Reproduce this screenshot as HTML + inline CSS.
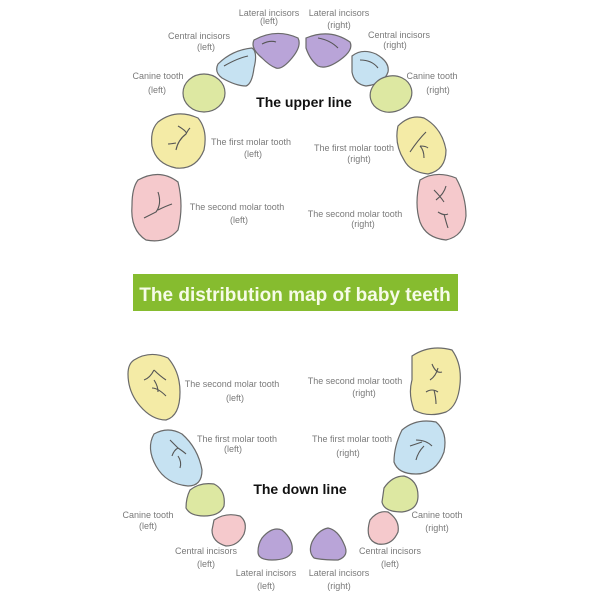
<!DOCTYPE html>
<html><head><style>
body{margin:0;background:#fff}
svg{display:block}
text{font-family:"Liberation Sans",sans-serif}
.l{font-size:9px;fill:#7a7a7a;text-anchor:middle}
.t{stroke:#6a6a6a;stroke-width:1.2}
.c{fill:none;stroke:#555;stroke-width:1.1}
</style></head><body>
<svg width="600" height="600" viewBox="0 0 600 600">
<!-- upper -->
<path class="t" fill="#b9a4d8" d="M254,40 Q276,28 298,38 Q302,46 292,58 Q282,70 276,68 Q270,66 262,58 Q250,48 254,40Z"/>
<path class="c" d="M262,44 Q270,40 276,42"/>
<path class="t" fill="#b9a4d8" d="M306,38 Q330,28 350,42 Q354,50 340,60 Q326,70 318,66 Q310,60 306,48Z"/>
<path class="c" d="M318,38 Q330,40 338,48"/>
<path class="t" fill="#c6e2f2" d="M218,64 Q232,50 252,48 Q258,52 254,68 Q252,84 246,86 Q236,86 222,78 Q214,72 218,64Z"/>
<path class="c" d="M224,66 Q238,58 248,56"/>
<path class="t" fill="#c6e2f2" d="M352,56 Q362,48 376,54 Q390,62 388,72 Q384,84 366,86 Q354,84 352,72Z"/>
<path class="c" d="M360,60 Q372,60 378,68"/>
<ellipse class="t" fill="#dde8a2" cx="204" cy="93" rx="21" ry="19"/>
<ellipse class="t" fill="#dde8a2" cx="391" cy="94" rx="21" ry="18" transform="rotate(-15 391 94)"/>
<path class="t" fill="#f4eba6" d="M158,122 Q176,108 198,118 Q208,130 204,150 Q196,170 176,168 Q156,164 152,146 Q150,130 158,122Z"/>
<path class="c" d="M178,126 Q188,132 186,134 Q178,140 176,150 M186,134 Q188,130 190,128 M176,143 Q170,144 168,144"/>
<path class="t" fill="#f4eba6" d="M398,126 Q410,114 424,118 Q442,128 446,150 Q446,170 428,174 Q410,172 404,160 Q394,144 398,126Z"/>
<path class="c" d="M410,152 Q418,140 426,132 M420,146 Q424,150 424,158 M420,146 Q426,146 428,148"/>
<path class="t" fill="#f5c9cc" d="M138,180 Q160,168 178,182 Q184,206 178,230 Q166,244 146,240 Q130,230 132,205 Q132,188 138,180Z"/>
<path class="c" d="M158,192 Q162,204 156,212 Q148,216 144,218 M158,210 Q166,206 172,204"/>
<path class="t" fill="#f5c9cc" d="M420,180 Q436,170 456,178 Q466,196 466,216 Q464,236 446,240 Q426,238 420,222 Q414,204 420,180Z"/>
<path class="c" d="M434,190 Q440,196 444,202 M446,186 Q444,194 436,200 M438,212 Q444,216 448,214 M444,214 Q446,222 448,228"/>
<text x="304" y="107" font-size="14" font-weight="bold" text-anchor="middle" fill="#111">The upper line</text>
<g class="l">
<text x="269" y="16">Lateral incisors</text><text x="269" y="24">(left)</text>
<text x="339" y="16">Lateral incisors</text><text x="339" y="28">(right)</text>
<text x="199" y="39">Central incisors</text><text x="206" y="50">(left)</text>
<text x="399" y="38">Central incisors</text><text x="395" y="48">(right)</text>
<text x="158" y="79">Canine tooth</text><text x="157" y="93">(left)</text>
<text x="432" y="79">Canine tooth</text><text x="438" y="93">(right)</text>
<text x="251" y="145">The first molar tooth</text><text x="253" y="157">(left)</text>
<text x="354" y="151">The first molar tooth</text><text x="359" y="162">(right)</text>
<text x="237" y="210">The second molar tooth</text><text x="239" y="223">(left)</text>
<text x="355" y="217">The second molar tooth</text><text x="363" y="227">(right)</text>
</g>
<!-- banner -->
<rect x="133" y="274" width="325" height="37" fill="#86bc2f"/>
<text x="295" y="301" font-size="19" font-weight="bold" fill="#f6fbe8" text-anchor="middle">The distribution map of baby teeth</text>
<!-- lower -->
<path class="t" fill="#f4eba6" d="M134,360 Q150,350 168,358 Q180,372 180,392 Q180,416 166,420 Q152,420 140,406 Q128,392 128,374 Q128,364 134,360Z"/>
<path class="c" d="M154,370 Q150,378 144,380 M154,370 Q160,376 166,380 M154,380 Q158,386 158,392 M152,388 Q158,388 166,396"/>
<path class="t" fill="#f4eba6" d="M412,356 Q430,344 452,350 Q462,364 460,384 Q458,406 446,412 Q428,418 414,410 Q408,394 412,380Z"/>
<path class="c" d="M432,364 Q436,374 442,372 M430,380 Q436,376 438,368 M426,392 Q432,388 438,392 M434,390 Q436,398 436,404"/>
<path class="t" fill="#c6e2f2" d="M154,434 Q168,426 182,434 Q198,448 202,470 Q202,486 188,486 Q166,484 156,466 Q146,448 154,434Z"/>
<path class="c" d="M170,440 Q176,446 178,448 M172,456 Q174,450 178,448 Q184,452 186,454 M178,456 Q182,462 180,468"/>
<path class="t" fill="#c6e2f2" d="M402,430 Q416,418 436,422 Q448,432 444,452 Q436,474 416,474 Q398,474 394,462 Q394,446 402,430Z"/>
<path class="c" d="M410,446 Q416,444 422,442 M416,440 Q426,440 432,446 M424,446 Q418,452 416,460"/>
<path class="t" fill="#dde8a2" d="M190,490 Q200,482 214,484 Q226,490 224,506 Q220,516 204,516 Q190,516 186,508 Q186,498 190,490Z"/>
<path class="t" fill="#dde8a2" d="M384,488 Q392,476 404,476 Q418,480 418,496 Q418,510 402,512 Q384,512 382,502Z"/>
<path class="t" fill="#f5c9cc" d="M214,520 Q226,512 240,516 Q248,522 244,534 Q238,546 226,546 Q212,542 212,530Z"/>
<path class="t" fill="#f5c9cc" d="M370,520 Q378,510 388,512 Q400,520 398,532 Q392,546 378,544 Q364,540 370,520Z"/>
<path class="t" fill="#b9a4d8" d="M262,538 Q272,526 282,530 Q294,540 292,552 Q288,560 272,560 Q258,560 258,552 Q258,544 262,538Z"/>
<path class="t" fill="#b9a4d8" d="M312,542 Q318,530 328,528 Q338,530 344,544 Q350,556 338,560 Q322,560 314,558 Q308,552 312,542Z"/>
<text x="300" y="494" font-size="14" font-weight="bold" text-anchor="middle" fill="#111">The down line</text>
<g class="l">
<text x="232" y="387">The second molar tooth</text><text x="235" y="401">(left)</text>
<text x="355" y="384">The second molar tooth</text><text x="364" y="396">(right)</text>
<text x="237" y="442">The first molar tooth</text><text x="233" y="452">(left)</text>
<text x="352" y="442">The first molar tooth</text><text x="348" y="456">(right)</text>
<text x="148" y="518">Canine tooth</text><text x="148" y="529">(left)</text>
<text x="437" y="518">Canine tooth</text><text x="437" y="531">(right)</text>
<text x="206" y="554">Central incisors</text><text x="206" y="567">(left)</text>
<text x="390" y="554">Central incisors</text><text x="390" y="567">(left)</text>
<text x="266" y="576">Lateral incisors</text><text x="266" y="589">(left)</text>
<text x="339" y="576">Lateral incisors</text><text x="339" y="589">(right)</text>
</g>
</svg>
</body></html>
